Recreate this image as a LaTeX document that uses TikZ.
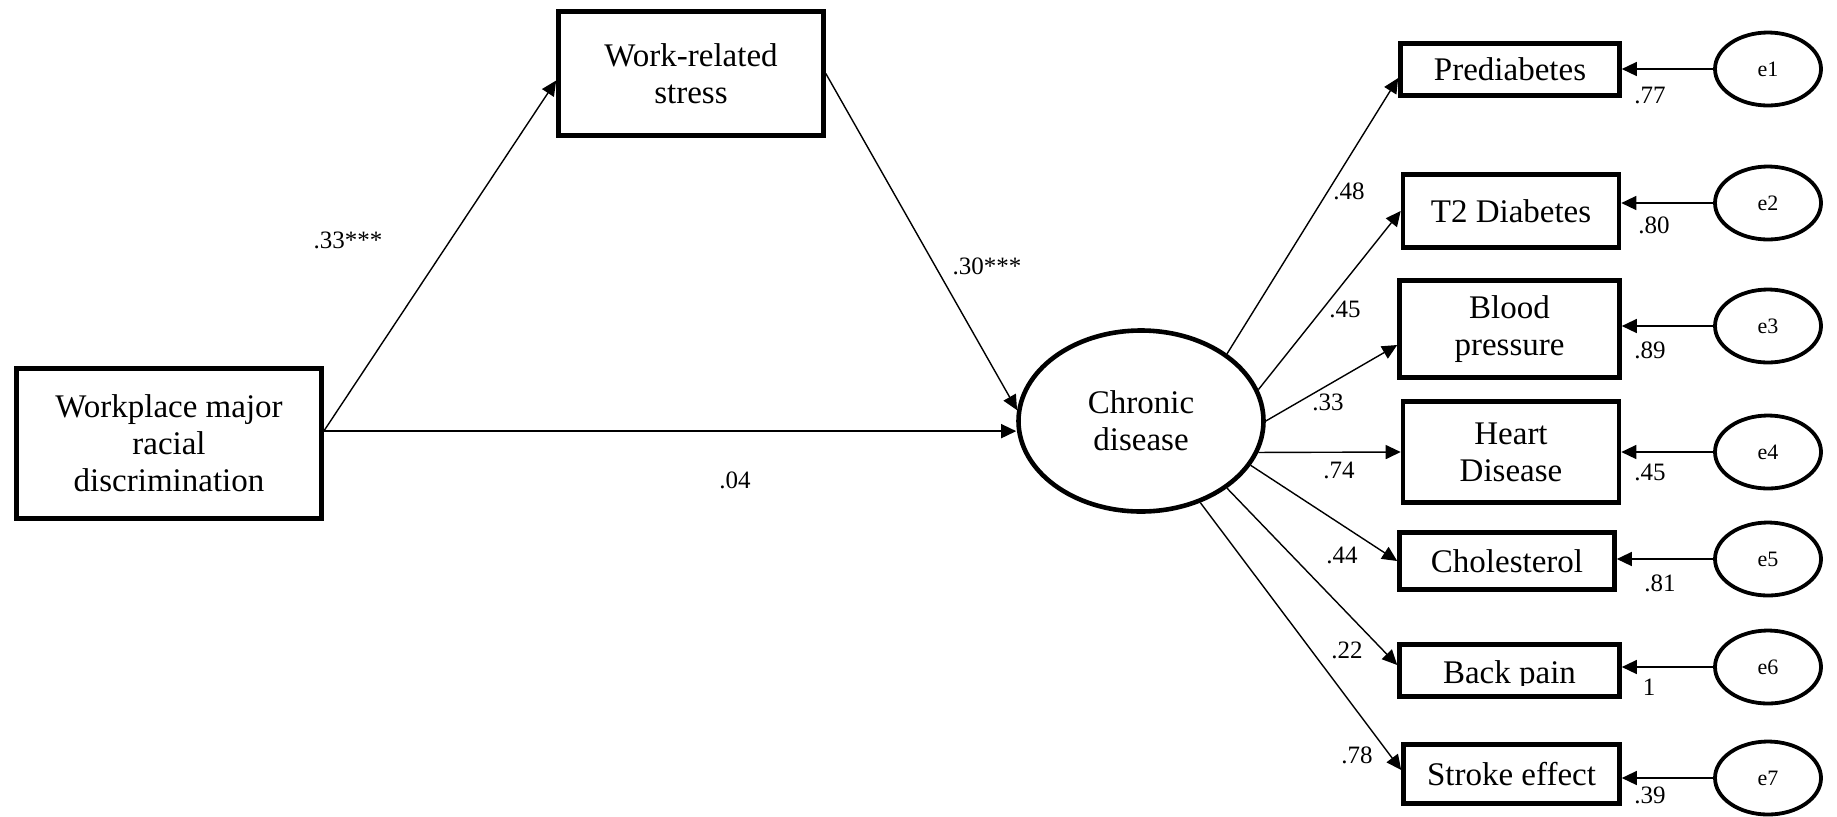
\documentclass[tikz,border=0pt]{standalone}
\usepackage{fontspec}
\setmainfont{Liberation Serif}
\usetikzlibrary{shapes.geometric,arrows.meta,calc}
\begin{document}
\begin{tikzpicture}
    \tikzset{x=0.5pt, y=-0.5pt, >={Triangle[length=7.5pt, width=7pt]}}
    \tikzstyle{obs}=[rectangle, draw, line width=2.3pt, align=center, inner sep=0pt, font=\fontsize{16.5pt}{18.5pt}\selectfont]
    \tikzstyle{lat}=[ellipse, draw, line width=2.3pt, align=center, inner sep=0pt, minimum width=122.5pt, minimum height=90.5pt, font=\fontsize{16.5pt}{18.5pt}\selectfont]
    \tikzstyle{err}=[ellipse, draw, line width=1.9pt, inner sep=0pt, minimum width=53pt, minimum height=36.5pt, font=\fontsize{11pt}{13pt}\selectfont]
    \tikzstyle{coef}=[inner sep=0pt, font=\fontsize{12.5pt}{14pt}\selectfont]
    \tikzstyle{arr}=[->, line width=0.7pt]

    \useasboundingbox (0,0) rectangle (1837,816);

    \draw (169, 443.5)  node[obs, minimum width=152.5pt, minimum height=75pt]   (wmrd)  {Workplace major\\racial\\discrimination};
    \draw (691, 73.5)   node[obs, minimum width=132.5pt, minimum height=62pt]   (ws)    {Work-related\\stress};
    \draw (1141, 421)   node[lat]   (cd)    {Chronic\\disease};

    \draw (1510, 69.5)  node[obs, minimum width=109.5pt, minimum height=26pt]   (pd)    {Prediabetes};
    \draw (1511, 211)   node[obs, minimum width=108pt, minimum height=36.5pt]   (t2)    {T2 Diabetes};
    \draw (1509.5, 329) node[obs, minimum width=110pt, minimum height=48.5pt]   (bp)    {Blood\\pressure};
    \draw (1511, 452)   node[obs, minimum width=108pt, minimum height=50.5pt]   (hd)    {Heart\\Disease};
    \draw (1507, 561)   node[obs, minimum width=107.5pt, minimum height=28.5pt] (ch)    {Cholesterol};
    \draw (1509.5, 670.5) node[obs, minimum width=110pt, minimum height=26pt]   (bk)    {};
    \draw (1511.5, 774) node[obs, minimum width=108pt, minimum height=29.5pt]   (se)    {Stroke effect};

    \begin{scope}
        \clip ($(bk.north west)+(0,4)$) rectangle ($(bk.east)+(0,15)$);
        \draw (1509.5, 683) node[obs, draw=none, anchor=base] (bktext) {Back pain};
    \end{scope}

    \draw (1768, 69)    node[err]   (e1)    {e1};
    \draw (1768, 203)   node[err]   (e2)    {e2};
    \draw (1768, 326)   node[err]   (e3)    {e3};
    \draw (1768, 452)   node[err]   (e4)    {e4};
    \draw (1768, 559)   node[err]   (e5)    {e5};
    \draw (1768, 667)   node[err]   (e6)    {e6};
    \draw (1768, 778)   node[err]   (e7)    {e7};

    \coordinate (wmout) at ($(wmrd.north east)!0.42!(wmrd.south east)$);

    \draw [arr]         (wmout) -- ($(ws.west)+(0,7)$);
    \draw [arr]         (wmout) -- (wmout -| cd.west);
    \draw [arr]         (ws.east) -- (cd.175);

    \draw [arr]         (cd.38) -- ($(pd.west)+(0,8.5)$);
    \draw [arr]         (cd.15) -- (t2.west);
    \draw [arr]         (cd.0) -- ($(bp.west)+(0,16)$);
    \draw [arr]         (cd.-15) -- (hd.west);
    \draw [arr]         (cd.-22) -- (ch.west);
    \draw [arr]         (cd.-38) -- ($(bk.west)+(0,-5.5)$);
    \draw [arr]         (cd.-54) -- ($(se.west)+(0,-4)$);

    \draw [arr]         (e1.west) -- (e1.west -| pd.east);
    \draw [arr]         (e2.west) -- (e2.west -| t2.east);
    \draw [arr]         (e3.west) -- (e3.west -| bp.east);
    \draw [arr]         (e4.west) -- (e4.west -| hd.east);
    \draw [arr]         (e5.west) -- (e5.west -| ch.east);
    \draw [arr]         (e6.west) -- (e6.west -| bk.east);
    \draw [arr]         (e7.west) -- (e7.west -| se.east);

    \draw (348, 240)    node[coef]  (b1)    {.33***};
    \draw (987, 266)    node[coef]  (b2)    {.30***};
    \draw (735, 480)    node[coef]  (b3)    {.04};

    \draw (1349, 191)   node[coef]  (l1)    {.48};
    \draw (1345, 309)   node[coef]  (l2)    {.45};
    \draw (1328, 402)   node[coef]  (l3)    {.33};
    \draw (1339, 470)   node[coef]  (l4)    {.74};
    \draw (1342, 555)   node[coef]  (l5)    {.44};
    \draw (1347, 650)   node[coef]  (l6)    {.22};
    \draw (1357, 755)   node[coef]  (l7)    {.78};

    \draw (1650, 95)    node[coef]  (r1)    {.77};
    \draw (1654, 225)   node[coef]  (r2)    {.80};
    \draw (1650, 350)   node[coef]  (r3)    {.89};
    \draw (1650, 472)   node[coef]  (r4)    {.45};
    \draw (1660, 583)   node[coef]  (r5)    {.81};
    \draw (1649, 687)   node[coef]  (r6)    {1};
    \draw (1650, 795)   node[coef]  (r7)    {.39};
\end{tikzpicture}
\end{document}
